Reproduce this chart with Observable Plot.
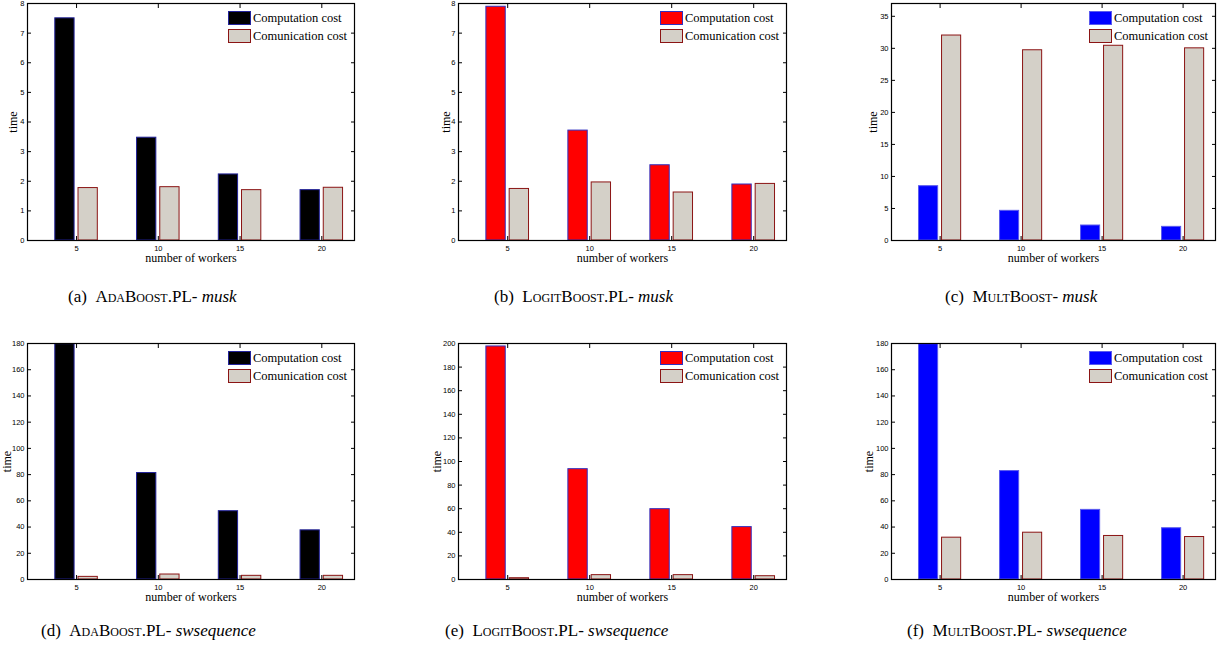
<!DOCTYPE html>
<html>
<head>
<meta charset="utf-8">
<script src="https://cdn.jsdelivr.net/npm/d3@7"></script>
<script src="https://cdn.jsdelivr.net/npm/@observablehq/plot@0.6"></script>
<style>
  html, body { margin: 0; padding: 0; background: #fff; }
  #root { position: relative; width: 1225px; height: 655px; overflow: hidden; background: #fff; }
  .panel { position: absolute; overflow: visible; }
  .legend { position: absolute; font-family: "Liberation Serif", "Times New Roman", "DejaVu Serif", serif; font-size: 12.5px; color: #000; }
  .legend .row { display: flex; align-items: center; height: 18px; }
  .legend .sw { width: 23px; height: 14px; box-sizing: border-box; margin-right: 2px; }
  .caption { position: absolute; font-family: "Liberation Serif", "Times New Roman", serif; font-size: 17px; color: #000; white-space: nowrap; line-height: 17px; }
  .sc { font-variant: small-caps; }
</style>
</head>
<body>
<div id="root"></div>
<script>
// ---------------- data ----------------
const workers = [5, 10, 15, 20];
const seriesNames = ["Computation cost", "Comunication cost"];

const adaMuskComp   = [7.5, 3.47, 2.23, 1.7];
const adaMuskComm   = [1.77, 1.8, 1.7, 1.78];
const logitMuskComp = [7.89, 3.71, 2.54, 1.89];
const logitMuskComm = [1.74, 1.96, 1.62, 1.91];
const multMuskComp  = [8.48, 4.63, 2.34, 2.13];
const multMuskComm  = [32.0, 29.7, 30.4, 30.0];

const adaSwComp   = [179.5, 81.2, 52.1, 37.5];
const adaSwComm   = [2.0, 3.8, 2.8, 2.8];
const logitSwComp = [197.5, 93.5, 59.6, 44.4];
const logitSwComm = [1.1, 3.7, 3.7, 2.8];
const multSwComp  = [179.5, 82.7, 53.1, 39.1];
const multSwComm  = [31.9, 35.7, 33.2, 32.4];

const ticks8   = [0, 1, 2, 3, 4, 5, 6, 7, 8];
const ticks35  = [0, 5, 10, 15, 20, 25, 30, 35];
const ticks180 = [0, 20, 40, 60, 80, 100, 120, 140, 160, 180];
const ticks200 = [0, 20, 40, 60, 80, 100, 120, 140, 160, 180, 200];

const captions = [
  ["(a)", "AdaBoost", ".PL- ", "musk"],
  ["(b)", "LogitBoost", ".PL- ", "musk"],
  ["(c)", "MultBoost", "- ", "musk"],
  ["(d)", "AdaBoost", ".PL- ", "swsequence"],
  ["(e)", "LogitBoost", ".PL- ", "swsequence"],
  ["(f)", "MultBoost", ".PL- ", "swsequence"]
];

// ---------------- styles ----------------
const commFill = "#d4d0c8", commStroke = "#8b1414";
const compStyles = {
  black: {fill: "#000000", stroke: "#23239a"},
  red:   {fill: "#ff0000", stroke: "#3030c0"},
  blue:  {fill: "#0000ff", stroke: "#5a5aee"}
};

const cols = [
  {left: 0,   width: 408, ml: 27, mr: 54},
  {left: 408, width: 408, ml: 50, mr: 30},
  {left: 815, width: 410, ml: 76, mr: 10}
];
const rows = [
  {top: 0,   height: 270, mt: 3,  mb: 30},
  {top: 330, height: 280, mt: 13, mb: 31}
];

const panels = [
  {r: 0, c: 0, comp: adaMuskComp,   comm: adaMuskComm,   ymax: 8,   yt: ticks8,   col: "black", ylDx: -14},
  {r: 0, c: 1, comp: logitMuskComp, comm: logitMuskComm, ymax: 8,   yt: ticks8,   col: "red",   ylDx: -12},
  {r: 0, c: 2, comp: multMuskComp,  comm: multMuskComm,  ymax: 37,  yt: ticks35,  col: "blue",  ylDx: -18},
  {r: 1, c: 0, comp: adaSwComp,     comm: adaSwComm,     ymax: 180, yt: ticks180, col: "black", ylDx: -20},
  {r: 1, c: 1, comp: logitSwComp,   comm: logitSwComm,   ymax: 200, yt: ticks200, col: "red",   ylDx: -21},
  {r: 1, c: 2, comp: multSwComp,    comm: multSwComm,    ymax: 180, yt: ticks180, col: "blue",  ylDx: -22}
];

const captionPos = [
  {left: 68, top: 288}, {left: 494, top: 288}, {left: 945, top: 288},
  {left: 41, top: 622}, {left: 445, top: 622}, {left: 907, top: 622}
];

const root = document.getElementById("root");
const serif = "Liberation Serif, Times New Roman, serif";

panels.forEach((p, i) => {
  const col = cols[p.c], row = rows[p.r];
  const cs = compStyles[p.col];
  const compData = workers.map((w, j) => ({w, v: p.comp[j]}));
  const commData = workers.map((w, j) => ({w, v: p.comm[j]}));

  const chart = Plot.plot({
    width: col.width,
    height: row.height,
    marginLeft: col.ml,
    marginRight: col.mr,
    marginTop: row.mt,
    marginBottom: row.mb,
    x: {type: "linear", domain: [2, 22]},
    y: {type: "linear", domain: [0, p.ymax]},
    style: {fontFamily: "Liberation Sans, Arial, sans-serif", fontSize: "7.5px", background: "transparent", color: "#000", overflow: "visible"},
    marks: [
      Plot.rect(compData, {x1: d => d.w - 1.3, x2: d => d.w - 0.12, y1: () => 0, y2: "v", fill: cs.fill, stroke: cs.stroke, strokeWidth: 1}),
      Plot.rect(commData, {x1: d => d.w + 0.12, x2: d => d.w + 1.3, y1: () => 0, y2: "v", fill: commFill, stroke: commStroke, strokeWidth: 1}),
      Plot.axisX(workers, {anchor: "bottom", tickSize: 0, tickPadding: 5, label: null, tickFormat: d => String(d)}),
      Plot.axisX(workers, {anchor: "bottom", tickSize: -4, fill: "none", label: null}),
      Plot.axisX(workers, {anchor: "top", tickSize: -4, fill: "none", label: null}),
      Plot.axisY(p.yt, {anchor: "left", tickSize: 0, tickPadding: 3, label: null, tickFormat: d => String(d)}),
      Plot.axisY(p.yt, {anchor: "left", tickSize: -4, fill: "none", label: null}),
      Plot.axisY(p.yt, {anchor: "right", tickSize: -4, fill: "none", label: null}),
      Plot.frame({stroke: "#000", strokeWidth: 1.2}),
      Plot.text(["time"], {frameAnchor: "left", rotate: -90, dx: p.ylDx, fontFamily: serif, fontSize: 12, lineAnchor: "middle", textAnchor: "middle"}),
      Plot.text(["number of workers"], {frameAnchor: "bottom", dy: 18, fontFamily: serif, fontSize: 12, lineAnchor: "middle"})
    ]
  });
  chart.classList.add("panel");
  chart.style.left = col.left + "px";
  chart.style.top = row.top + "px";
  root.appendChild(chart);

  // legend
  const frameRight = col.left + col.width - col.mr;
  const frameTop = row.top + row.mt;
  const lg = document.createElement("div");
  lg.className = "legend";
  lg.style.left = (frameRight - 126) + "px";
  lg.style.top = (frameTop + 8 - 2) + "px";
  const swatches = [
    {fill: cs.fill, stroke: cs.stroke},
    {fill: commFill, stroke: commStroke}
  ];
  seriesNames.forEach((name, k) => {
    const rowEl = document.createElement("div");
    rowEl.className = "row";
    const sw = document.createElement("div");
    sw.className = "sw";
    sw.style.background = swatches[k].fill;
    sw.style.border = "1.3px solid " + swatches[k].stroke;
    const tx = document.createElement("span");
    tx.textContent = name;
    rowEl.appendChild(sw);
    rowEl.appendChild(tx);
    lg.appendChild(rowEl);
  });
  root.appendChild(lg);

  // caption
  const cap = captions[i];
  const cd = document.createElement("div");
  cd.className = "caption";
  cd.style.left = captionPos[i].left + "px";
  cd.style.top = captionPos[i].top + "px";
  const a = document.createElement("span"); a.textContent = cap[0] + "\u00a0\u00a0";
  const b = document.createElement("span"); b.className = "sc"; b.textContent = cap[1];
  const c = document.createElement("span"); c.textContent = cap[2];
  const d = document.createElement("i"); d.textContent = cap[3];
  cd.append(a, b, c, d);
  root.appendChild(cd);
});
</script>
</body>
</html>
